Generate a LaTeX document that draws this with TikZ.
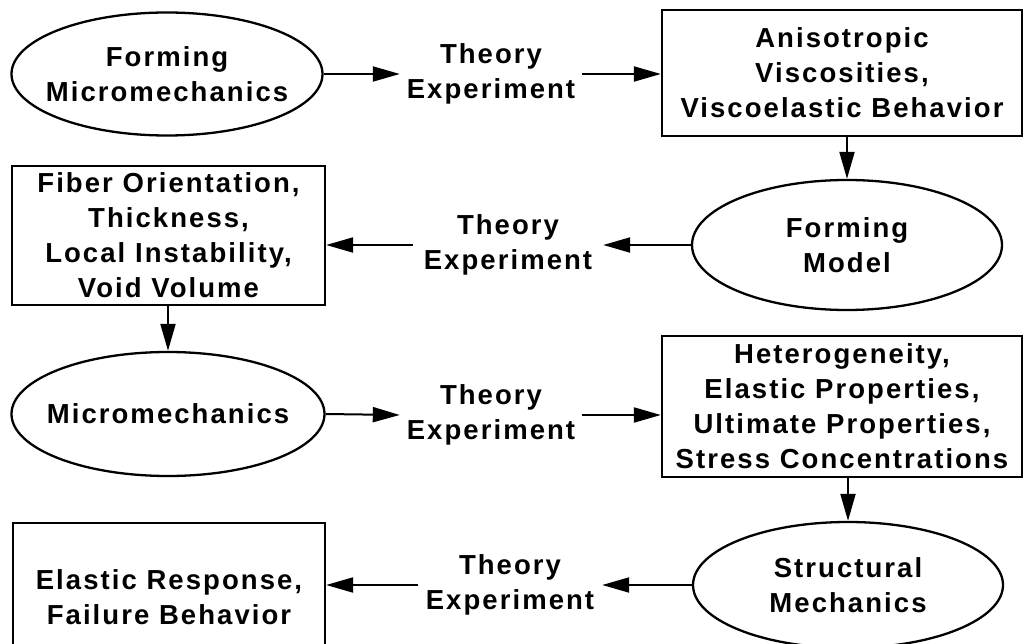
\documentclass[tikz,border=0pt]{standalone}
\usepackage{fontspec}
\setmainfont{Liberation Sans}[LetterSpace=7.5]
\usetikzlibrary{shapes.geometric,arrows.meta}
\tikzset{
  lbl/.style={font=\fontsize{27.5}{35}\selectfont\bfseries, align=center},
  oval/.style={lbl, draw, ellipse, line width=2.3pt, inner xsep=-60pt, inner ysep=-20pt},
  rbox/.style={lbl, draw, rectangle, line width=2.3pt, inner sep=0pt},
  te/.style={lbl, inner sep=0pt, minimum height=60pt},
  arr/.style={line width=2pt, -{Triangle[length=27pt,width=15pt]}}
}
\begin{document}
\begin{tikzpicture}[x=1pt,y=-1pt]
\useasboundingbox (0,0) rectangle (1028,644);
\clip (0,0) rectangle (1028,644);
% row 1
\node[oval, minimum width=311pt, minimum height=123pt] (e1) at (167,74) {Forming\\Micromechanics};
\node[te, minimum width=182pt] (t1) at (491,74) {Theory\\Experiment};
\node[rbox, minimum width=360pt, minimum height=126pt] (b1) at (842,73) {Anisotropic\\Viscosities,\\Viscoelastic Behavior};
% row 2
\node[oval, minimum width=310pt, minimum height=130pt] (e2) at (847,245) {Forming\\Model};
\node[te, minimum width=190pt] (t2) at (508,245) {Theory\\Experiment};
\node[rbox, minimum width=313pt, minimum height=139pt] (b2) at (168.5,235.5) {Fiber Orientation,\\Thickness,\\Local Instability,\\Void Volume};
% row 3
\node[oval, minimum width=313pt, minimum height=124pt] (e3) at (168,414) {Micromechanics};
\node[te, minimum width=182pt] (t3) at (491,415) {Theory\\Experiment};
\node[rbox, minimum width=360pt, minimum height=141pt] (b3) at (842,406.5) {Heterogeneity,\\Elastic Properties,\\Ultimate Properties,\\Stress Concentrations};
% row 4
\node[oval, minimum width=310pt, minimum height=126pt] (e4) at (848,585) {Structural\\Mechanics};
\node[te, minimum width=184pt] (t4) at (510,585) {Theory\\Experiment};
\node[rbox, minimum width=312pt, minimum height=148pt] (b4) at (169,597) {Elastic Response,\\Failure Behavior};
% connectors
\draw[arr] (e1.east) -- (t1.west);
\draw[arr] (t1.east) -- (b1.west |- t1.east);
\draw[arr] (b1.south -| e2.north) -- (e2.north);
\draw[arr] (e2.west) -- (t2.east);
\draw[arr] (t2.west) -- (b2.east |- t2.west);
\draw[arr] (b2.south -| e3.north) -- (e3.north);
\draw[arr] (e3.east) -- (t3.west);
\draw[arr] (t3.east) -- (b3.west |- t3.east);
\draw[arr] (b3.south -| e4.north) -- (e4.north);
\draw[arr] (e4.west) -- (t4.east);
\draw[arr] (t4.west) -- (b4.east |- t4.west);
\end{tikzpicture}
\end{document}
